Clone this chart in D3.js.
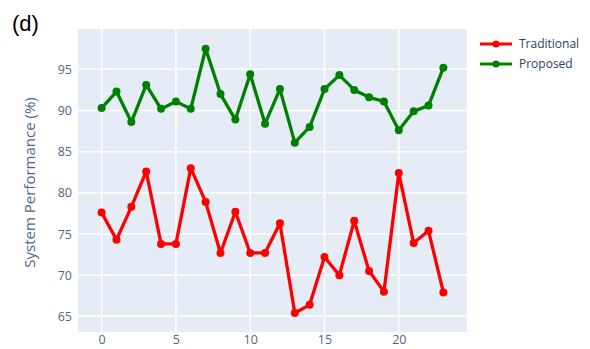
<!DOCTYPE html>
<html>
<head>
<meta charset="utf-8">
<script src="https://cdn.jsdelivr.net/npm/d3@7"></script>
<style>
  html, body { margin: 0; padding: 0; background: #fff; }
  svg { display: block; }
</style>
</head>
<body>
<svg id="chart" width="590" height="349"></svg>
<script>
// Run index (x) for both series
const runs = d3.range(24);

const traditional = [77.6, 74.3, 78.3, 82.6, 73.8, 73.8, 83.0, 78.9, 72.7, 77.7, 72.7, 72.7,
                     76.3, 65.4, 66.4, 72.2, 70.0, 76.6, 70.5, 68.0, 82.4, 73.9, 75.4, 67.9];
const proposed    = [90.3, 92.3, 88.6, 93.1, 90.2, 91.1, 90.2, 97.5, 92.0, 88.9, 94.4, 88.4,
                     92.6, 86.1, 88.0, 92.6, 94.3, 92.5, 91.6, 91.1, 87.6, 89.9, 90.6, 95.2];

const seriesNames  = ["Traditional", "Proposed"];
const seriesColors = ["#ff0000", "#008000"];
const xTicks = [0, 5, 10, 15, 20];
const yTicks = [65, 70, 75, 80, 85, 90, 95];

const svg = d3.select("#chart");
const plot = { left: 78, right: 467, top: 29, bottom: 332 };

const x = d3.scaleLinear().domain([-1.59, 24.59]).range([plot.left, plot.right]);
const y = d3.scaleLinear().domain([63.1, 99.9]).range([plot.bottom, plot.top]);

// Plot background
svg.append("rect")
  .attr("x", plot.left).attr("y", plot.top)
  .attr("width", plot.right - plot.left).attr("height", plot.bottom - plot.top)
  .attr("fill", "#e5ecf6");

// Grid lines
svg.append("g")
  .selectAll("line").data(xTicks).join("line")
  .attr("x1", d => x(d)).attr("x2", d => x(d))
  .attr("y1", plot.top).attr("y2", plot.bottom)
  .attr("stroke", "#fff").attr("stroke-width", 1.5);
svg.append("g")
  .selectAll("line").data(yTicks).join("line")
  .attr("y1", d => y(d)).attr("y2", d => y(d))
  .attr("x1", plot.left).attr("x2", plot.right)
  .attr("stroke", "#fff").attr("stroke-width", 1.5);

// Axes (labels only, Plotly style)
const xAxis = svg.append("g")
  .attr("transform", `translate(0,${plot.bottom})`)
  .call(d3.axisBottom(x).tickValues(xTicks).tickSize(0).tickPadding(3));
const yAxis = svg.append("g")
  .attr("transform", `translate(${plot.left},0)`)
  .call(d3.axisLeft(y).tickValues(yTicks).tickSize(0).tickPadding(6));
[xAxis, yAxis].forEach(a => {
  a.select(".domain").remove();
  a.selectAll("text")
    .attr("font-family", "'Open Sans', sans-serif")
    .attr("font-size", 12.5)
    .attr("fill", "#506784");
});

// Y-axis title
svg.append("text")
  .attr("transform", `translate(35,${(plot.top + plot.bottom) / 2 + 2}) rotate(-90)`)
  .attr("text-anchor", "middle")
  .attr("font-family", "'Open Sans', sans-serif")
  .attr("font-size", 15)
  .attr("fill", "#506784")
  .text("System Performance (%)");

// Panel label
svg.append("text")
  .attr("x", 12).attr("y", 31)
  .attr("font-family", "'Liberation Sans', Arial, sans-serif")
  .attr("font-size", 22)
  .attr("fill", "#000")
  .text("(d)");

// Series lines and markers
const allSeries = [traditional, proposed];
const line = d3.line().x((d, i) => x(runs[i])).y(d => y(d));

allSeries.forEach((vals, s) => {
  const g = svg.append("g");
  g.append("path")
    .datum(vals)
    .attr("d", line)
    .attr("fill", "none")
    .attr("stroke", seriesColors[s])
    .attr("stroke-width", 3.3)
    .attr("stroke-linejoin", "round");
  g.selectAll("circle").data(vals).join("circle")
    .attr("cx", (d, i) => x(runs[i]))
    .attr("cy", d => y(d))
    .attr("r", 4)
    .attr("fill", seriesColors[s]);
});

// Legend
const legend = svg.append("g");
seriesNames.forEach((name, i) => {
  const ly = 44 + i * 20;
  legend.append("line")
    .attr("x1", 480).attr("x2", 512).attr("y1", ly).attr("y2", ly)
    .attr("stroke", seriesColors[i]).attr("stroke-width", 3);
  legend.append("circle")
    .attr("cx", 496).attr("cy", ly).attr("r", 3.5)
    .attr("fill", seriesColors[i]);
  legend.append("text")
    .attr("x", 519).attr("y", ly)
    .attr("dy", "0.35em")
    .attr("font-family", "'Open Sans', sans-serif")
    .attr("font-size", 12)
    .attr("fill", "#2a3f5f")
    .text(name);
});
</script>
</body>
</html>
